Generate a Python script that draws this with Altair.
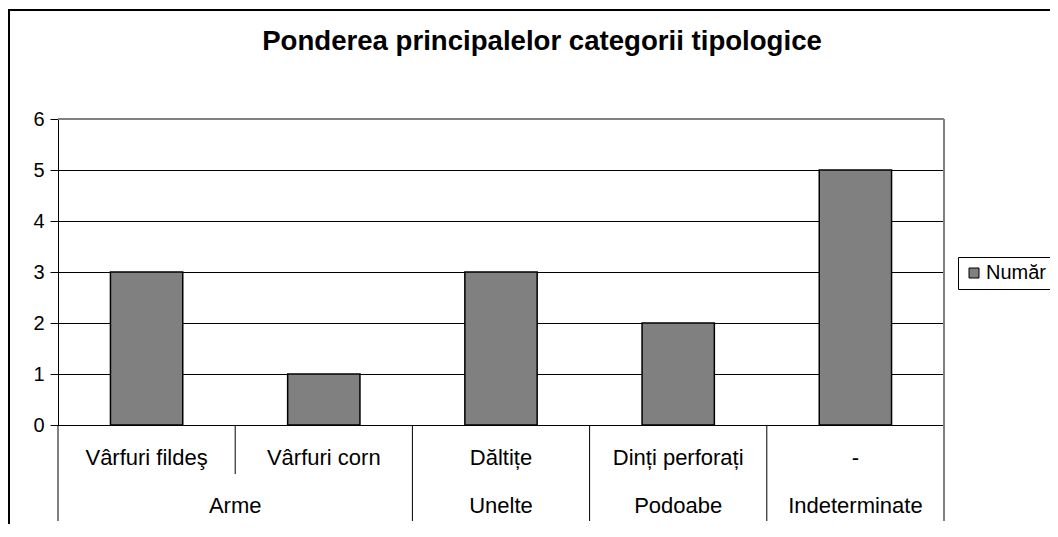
import altair as alt
import pandas as pd

# ---- data ----
subcats = ["Vârfuri fildeş", "Vârfuri corn", "Dăltițe", "Dinți perforați", "-"]
groups = ["Arme", "Arme", "Unelte", "Podoabe", "Indeterminate"]
values = [3, 1, 3, 2, 5]
series_name = "Număr"
title_text = "Ponderea principalelor categorii tipologice"
y_ticks = [0, 1, 2, 3, 4, 5, 6]

FONT = "Liberation Sans"
BAR_HALF = 0.204

n = len(subcats)
pos = [i + 0.5 for i in range(n)]
df = pd.DataFrame({
    "sub": subcats,
    "grp": groups,
    "val": values,
    "pos": pos,
    "x0": [p - BAR_HALF for p in pos],
    "x1": [p + BAR_HALF for p in pos],
    "serie": [series_name] * n,
})

# group table (center of each run of equal group names)
grp_rows = []
i = 0
while i < n:
    j = i
    while j + 1 < n and groups[j + 1] == groups[i]:
        j += 1
    grp_rows.append({"grp": groups[i], "center": (i + j + 1) / 2})
    i = j + 1
grp_df = pd.DataFrame(grp_rows)

# boundaries between categories
short_b = [b for b in range(1, n) if groups[b] == groups[b - 1]]
long_b = [0] + [b for b in range(1, n) if groups[b] != groups[b - 1]]
short_df = pd.DataFrame({"b": short_b})
long_df = pd.DataFrame({"b": long_b})
right_df = pd.DataFrame({"b": [n]})
top_df = pd.DataFrame({"y": [max(y_ticks)], "a": [0], "b": [n]})

W, H = 886, 306
PAD_L, PAD_T = 50, 111
TOTAL_W, TOTAL_H = 1042, 516
xs = alt.Scale(domain=[0, n], nice=False, zero=False)
ys = alt.Scale(domain=[0, max(y_ticks)], nice=False)

bars = alt.Chart(df).mark_bar(stroke="black", strokeWidth=1.5).encode(
    x=alt.X("x0:Q", scale=xs, axis=None),
    x2="x1:Q",
    y=alt.Y("val:Q", scale=ys, axis=alt.Axis(
        values=y_ticks, title=None, grid=True, gridColor="black", gridWidth=1,
        domainColor="black", domainWidth=1, tickColor="black", tickSize=8,
        labelFont=FONT, labelFontSize=20, labelColor="black", labelPadding=6)),
    y2=alt.datum(0),
    color=alt.Color("serie:N", scale=alt.Scale(range=["#808080"]), legend=alt.Legend(
        title=None, orient="none", legendX=900, legendY=138,
        symbolType="square", symbolSize=100, symbolStrokeColor="black",
        symbolStrokeWidth=1, labelFont=FONT, labelFontSize=20, labelColor="black",
        labelOffset=2, padding=6, strokeColor="black", fillColor="white")),
)

top_border = alt.Chart(top_df).mark_rule(color="#808080", strokeWidth=2).encode(
    x=alt.X("a:Q", scale=xs), x2="b:Q", y=alt.Y("y:Q", scale=ys))

right_border = alt.Chart(right_df).mark_rule(color="#808080", strokeWidth=2).encode(
    x=alt.X("b:Q", scale=xs), y=alt.value(0), y2=alt.value(402))

short_sep = alt.Chart(short_df).mark_rule(color="black", strokeWidth=1).encode(
    x=alt.X("b:Q", scale=xs), y=alt.value(H), y2=alt.value(355))

long_sep = alt.Chart(long_df).mark_rule(color="black", strokeWidth=1).encode(
    x=alt.X("b:Q", scale=xs), y=alt.value(H), y2=alt.value(402))

sub_labels = alt.Chart(df).mark_text(
    font=FONT, fontSize=22, color="black", baseline="middle", align="center").encode(
    x=alt.X("pos:Q", scale=xs), y=alt.value(339), text="sub:N")

grp_labels = alt.Chart(grp_df).mark_text(
    font=FONT, fontSize=22, color="black", baseline="middle", align="center").encode(
    x=alt.X("center:Q", scale=xs), y=alt.value(387), text="grp:N")

title = alt.Chart(pd.DataFrame({"t": [title_text]})).mark_text(
    font=FONT, fontSize=27.6, fontWeight="bold", color="black",
    baseline="alphabetic", align="center").encode(
    x=alt.value(484), y=alt.value(-69), text="t:N")

frame_left = alt.Chart(pd.DataFrame({"k": [0]})).mark_rule(color="black", strokeWidth=2).encode(
    x=alt.value(-49), y=alt.value(-109), y2=alt.value(420))
frame_top = alt.Chart(pd.DataFrame({"k": [0]})).mark_rule(color="black", strokeWidth=2).encode(
    x=alt.value(-50), x2=alt.value(1010), y=alt.value(-109))

chart = alt.layer(
    bars, top_border, right_border, short_sep, long_sep,
    sub_labels, grp_labels, title, frame_left, frame_top,
).properties(
    width=W, height=H,
    autosize=alt.AutoSizeParams(type="none"),
    padding={"left": PAD_L, "top": PAD_T,
             "right": TOTAL_W - PAD_L - W, "bottom": TOTAL_H - PAD_T - H},
    background="white",
).configure_view(stroke=None)

chart.save("out.html", embed_options={"renderer": "svg", "actions": False})
